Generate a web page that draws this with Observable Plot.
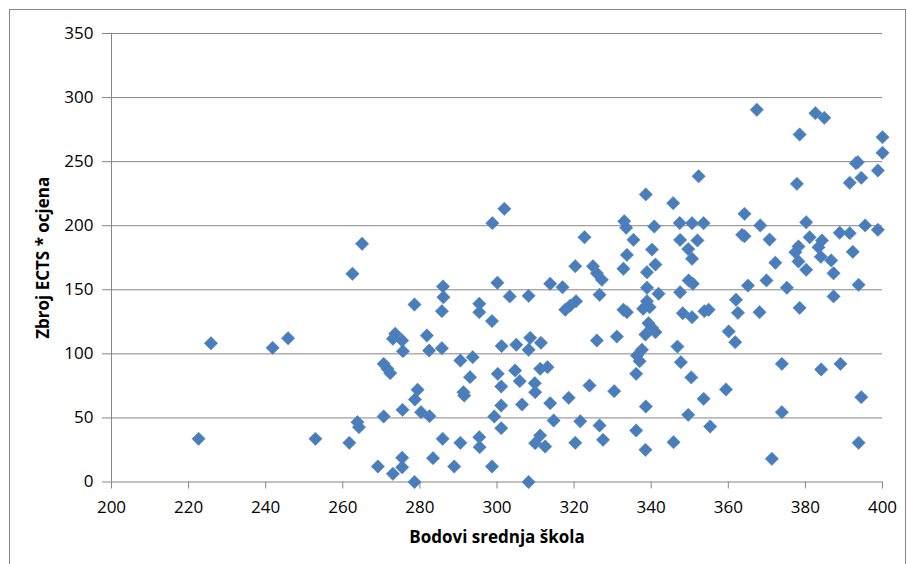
<!DOCTYPE html>
<html>
<head>
<meta charset="utf-8">
<script src="https://cdn.jsdelivr.net/npm/d3@7"></script>
<script src="https://cdn.jsdelivr.net/npm/@observablehq/plot@0.6"></script>
<style>
  html, body { margin: 0; padding: 0; background: #fff; }
  #wrap { position: relative; width: 908px; height: 564px; overflow: hidden; }
  #frame { position: absolute; left: 9px; top: 9px; width: 895px; height: 600px; border: 1px solid #868686; pointer-events: none; }
  g[aria-label="y-axis label"] text, g[aria-label="x-axis label"] text { font-weight: bold; }
</style>
</head>
<body>
<div id="wrap"><div id="frame"></div></div>
<script>
// x: Bodovi srednja škola
const bodovi = [
  225.8, 241.8, 245.8, 222.6, 252.9, 262.5, 265.0, 286.0, 286.1, 285.7,
  278.6, 273.0, 273.6, 275.4, 275.6, 281.8, 282.4, 285.7, 290.5, 293.7,
  293.0, 291.3, 291.5, 270.6, 271.6, 272.3, 279.4, 278.7, 275.5, 270.6,
  263.8, 264.2, 280.3, 282.5, 261.7, 285.9, 290.5, 295.4, 295.5, 269.1,
  275.4, 275.4, 273.0, 283.4, 288.9, 278.6, 295.4, 295.4, 298.7, 300.1,
  301.2, 300.2, 301.1, 301.1, 299.3, 301.1, 298.7, 298.8, 301.9, 322.7,
  338.6, 345.7, 333.0, 333.5, 340.8, 347.4, 335.4, 347.5, 340.2, 333.7,
  367.4, 382.6, 384.9, 378.5, 400.0, 400.0, 393.1, 393.6, 398.8, 391.5,
  394.5, 377.8, 352.3, 364.2, 368.3, 380.2, 395.5, 398.8, 388.9, 391.5,
  363.6, 364.2, 370.7, 381.1, 384.3, 383.4, 378.2, 377.4, 378.2, 392.3,
  350.6, 353.6, 352.0, 349.6, 350.6, 372.2, 384.0, 386.7, 380.2, 387.3,
  349.7, 350.8, 347.5, 365.1, 369.9, 375.2, 393.8, 387.3, 362.0, 362.5,
  368.1, 378.5, 348.2, 350.6, 353.8, 354.9, 360.1, 361.8, 346.8, 347.7,
  373.9, 384.1, 389.1, 350.4, 359.4, 353.6, 394.5, 349.6, 373.9, 355.3,
  393.8, 371.3, 345.8, 303.3, 308.2, 313.8, 317.0, 320.3, 324.9, 325.9,
  327.2, 326.6, 332.8, 338.9, 341.1, 338.9, 341.9, 317.7, 319.0, 320.5,
  332.8, 333.7, 337.9, 339.6, 338.9, 339.3, 340.2, 341.1, 338.5, 308.6,
  305.0, 308.2, 311.4, 325.9, 331.1, 337.6, 336.3, 337.0, 336.1, 304.7,
  305.9, 311.2, 313.1, 309.8, 309.9, 324.0, 330.4, 313.8, 318.6, 306.5,
  338.6, 314.7, 321.6, 326.6, 336.1, 309.9, 311.2, 312.5, 320.3, 327.5,
  338.5, 308.2
];
// y: Zbroj ECTS * ocjena
const ects = [
  108.3, 104.7, 112.2, 33.7, 33.7, 162.5, 185.9, 152.6, 144.2, 133.3,
  138.5, 111.8, 115.7, 110.4, 102.1, 114.3, 102.6, 104.4, 94.8, 97.4,
  81.8, 70.1, 67.5, 92.2, 88.3, 84.9, 72.0, 64.4, 56.3, 51.1,
  46.7, 42.8, 54.5, 51.4, 30.6, 33.7, 30.6, 35.0, 27.2, 12.1,
  18.9, 11.5, 6.4, 18.6, 12.1, 0, 139.1, 132.5, 125.6, 155.5,
  106.1, 84.4, 74.5, 59.7, 51.1, 42.0, 12.1, 202.0, 213.2, 191.0,
  224.4, 217.6, 203.5, 198.4, 199.4, 202.1, 189.0, 188.9, 181.4, 177.2,
  290.5, 287.8, 284.2, 271.2, 269.1, 256.9, 248.8, 249.6, 243.1, 233.5,
  237.4, 232.7, 238.6, 209.3, 200.2, 202.7, 200.2, 196.8, 194.5, 194.2,
  192.9, 191.8, 189.2, 191.0, 188.5, 183.2, 183.8, 179.3, 172.1, 179.6,
  202.0, 202.0, 188.5, 181.8, 174.2, 171.1, 175.7, 172.9, 165.6, 162.9,
  157.3, 154.7, 148.1, 153.3, 157.3, 151.6, 153.9, 144.8, 142.2, 132.0,
  132.5, 135.9, 131.7, 128.6, 133.3, 134.4, 117.5, 109.1, 105.7, 93.5,
  92.2, 87.8, 92.2, 81.6, 72.2, 64.9, 66.2, 52.4, 54.5, 43.3,
  30.6, 18.1, 31.1, 144.8, 145.3, 154.7, 152.0, 168.4, 168.4, 162.9,
  157.8, 146.1, 166.4, 163.7, 169.7, 151.6, 146.9, 134.4, 137.7, 141.1,
  134.4, 132.5, 135.2, 136.4, 141.1, 123.9, 120.3, 116.9, 115.1, 112.5,
  107.1, 103.2, 108.6, 110.4, 113.5, 103.2, 98.7, 94.3, 84.4, 87.0,
  78.7, 88.3, 89.6, 77.1, 70.1, 75.3, 70.9, 61.5, 65.7, 60.5,
  58.9, 48.0, 47.4, 44.1, 40.2, 30.3, 36.3, 27.7, 30.6, 32.9,
  25.1, 0
];
const xTicks = [200, 220, 240, 260, 280, 300, 320, 340, 360, 380, 400];
const yTicks = [0, 50, 100, 150, 200, 250, 300, 350];
const xTitle = "Bodovi srednja škola";
const yTitle = "Zbroj ECTS * ocjena";

const points = bodovi.map((b, i) => ({b, e: ects[i]}));
const axisColor = "#868686";

const chart = Plot.plot({
  width: 908,
  height: 564,
  marginLeft: 111,
  marginRight: 26,
  marginTop: 33,
  marginBottom: 82.5,
  style: {fontFamily: "'Open Sans', sans-serif", fontSize: "17px", color: "#000", background: "transparent"},
  x: {domain: [200, 400]},
  y: {domain: [0, 350]},
  marks: [
    Plot.gridY(yTicks.filter(d => d > 0), {stroke: axisColor, strokeOpacity: 1, strokeWidth: 1}),
    Plot.ruleX([200], {stroke: axisColor, strokeWidth: 1}),
    Plot.ruleY([0], {stroke: axisColor, strokeWidth: 1}),
    Plot.axisY({ticks: yTicks, tickSize: 9, tickPadding: 9, stroke: axisColor, fill: "#000",
      label: yTitle, labelAnchor: "center", labelArrow: "none", labelOffset: 75}),
    Plot.axisX({ticks: xTicks, tickSize: 7, tickPadding: 12, stroke: axisColor, fill: "#000",
      tickFormat: d => String(d),
      label: xTitle, labelAnchor: "center", labelArrow: "none", labelOffset: 61}),
    Plot.dot(points, {x: "b", y: "e", symbol: "diamond2", r: 6, fill: "#4A7EBB", stroke: "#5585c0", strokeWidth: 0.6})
  ]
});
document.getElementById("wrap").prepend(chart);
</script>
</body>
</html>
